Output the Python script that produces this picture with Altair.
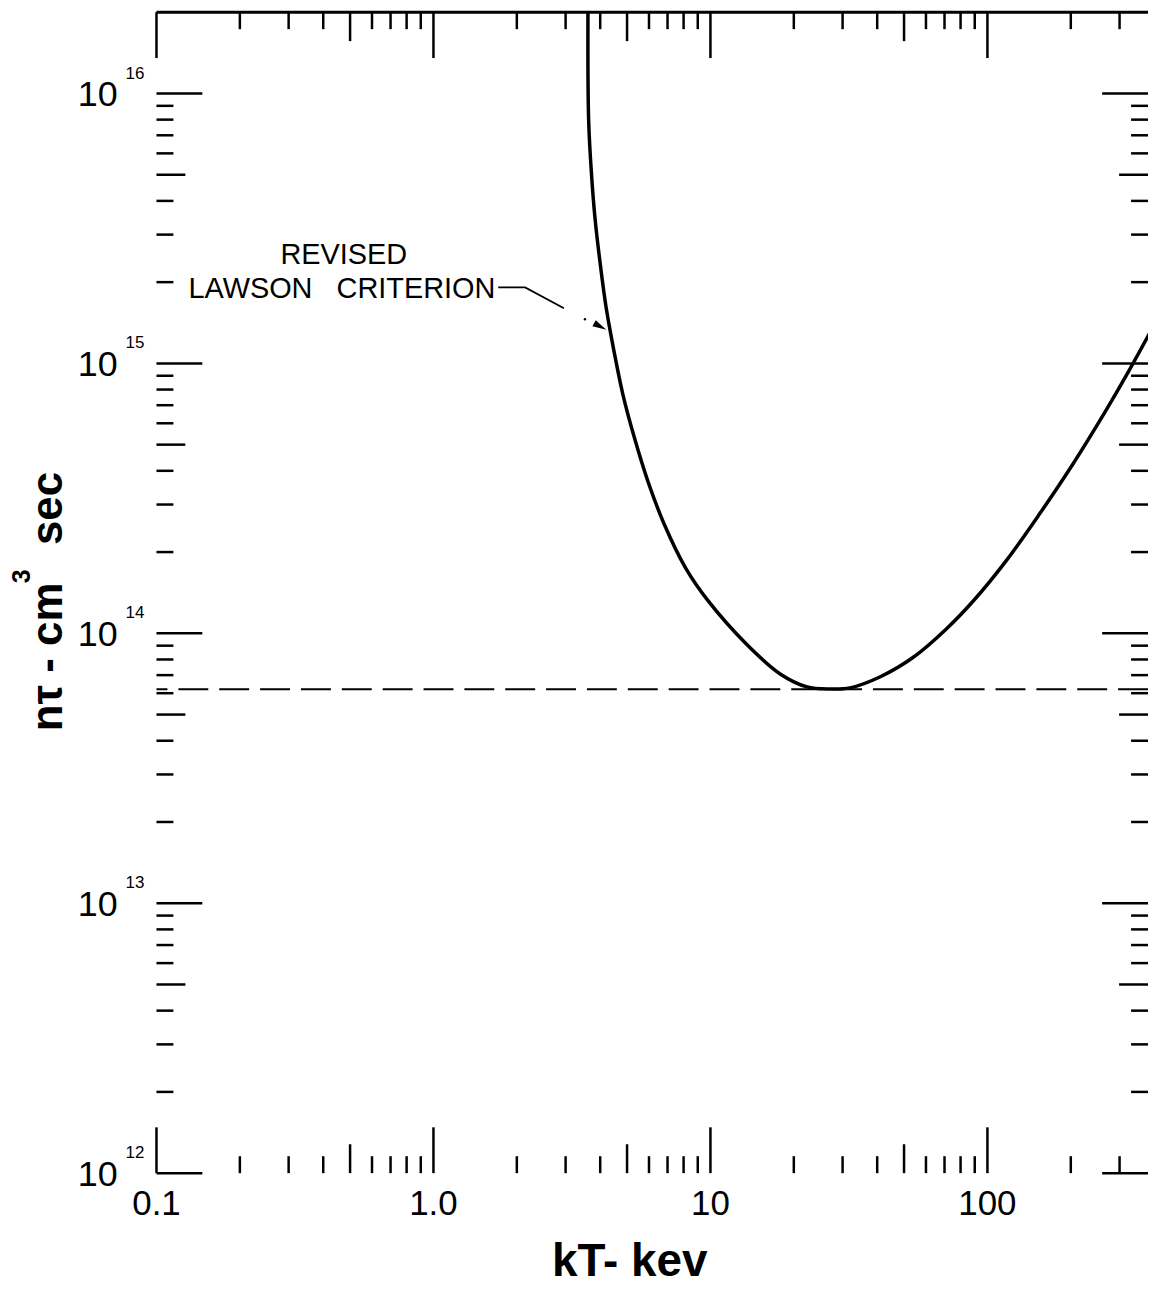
import altair as alt
import pandas as pd

# ---- data ----
KT = [3.612, 3.633, 3.726, 3.835, 3.998, 4.202, 4.478, 4.826, 5.316, 5.934, 6.817, 8.15,
      9.75, 13.59, 17.86, 22.33, 27.02, 31.89, 40.89, 54.17, 71.21, 89.04, 117.0, 153.9,
      203.9, 268.0, 324.2, 395.5]
NTAU = [2.0e16, 7.98e15, 4.91e15, 3.41e15, 2.35e15, 1.61e15, 1.12e15, 7.70e14, 5.30e14,
        3.68e14, 2.53e14, 1.74e14, 1.33e14, 9.05e13, 7.07e13, 6.33e13, 6.22e13, 6.28e13,
        6.89e13, 8.17e13, 1.04e14, 1.32e14, 1.86e14, 2.76e14, 4.25e14, 6.70e14, 9.38e14,
        1.36e15]
DASH_LEVEL = [6.2e13]

X_MAJOR = [0.1, 1, 10, 100]
X_MID = [0.5, 5, 50]
X_MINOR = [0.2, 0.3, 0.4, 0.6, 0.7, 0.8, 0.9, 2, 3, 4, 6, 7, 8, 9,
           20, 30, 40, 60, 70, 80, 90, 200, 300]
X_LABELS = ["0.1", "1.0", "10", "100"]

Y_MAJOR = [1e12, 1e13, 1e14, 1e15, 1e16]
Y_MID = [5e12, 5e13, 5e14, 5e15]
Y_MINOR = [m * 10.0 ** e for e in (12, 13, 14, 15) for m in (2, 3, 4, 6, 7, 8, 9)]
Y_EXP = ["12", "13", "14", "15", "16"]

NB = "\u00a0"
ANNOT_TEXT = ["REVISED", "LAWSON" + NB * 3 + "CRITERION"]
ANNOT_X = [0.4745, 0.467]
ANNOT_Y = [2.34e15, 1.74e15]
LEADER_X = [1.713, 2.143, 2.959]
LEADER_Y = [1.913e15, 1.913e15, 1.600e15]
DOT_X, DOT_Y = [3.523], [1.457e15]
ARROW_X, ARROW_Y = [4.00], [1.37e15]

W, H = 995, 1165
FONT = "Liberation Sans"
xs = alt.Scale(type="log", domain=[0.1, 380], nice=False)
ys = alt.Scale(type="log", domain=[1e12, 2e16], nice=False)

frame_axis = dict(domain=True, domainColor="black", domainWidth=3, ticks=False,
                  labels=False, grid=False, title=None)

curve_df = pd.DataFrame({"kT": KT, "ntau": NTAU})
curve = alt.Chart(curve_df).mark_line(
    color="black", strokeWidth=3.5, interpolate="catmull-rom", clip=True
).encode(
    x=alt.X("kT:Q", scale=xs, axis=alt.Axis(**frame_axis)),
    y=alt.Y("ntau:Q", scale=ys, axis=alt.Axis(**frame_axis)),
)

dash = alt.Chart(pd.DataFrame({"ntau": DASH_LEVEL})).mark_rule(
    color="black", strokeWidth=2, strokeDash=[30, 11]
).encode(y=alt.Y("ntau:Q", scale=ys, axis=None))

one = pd.DataFrame({"k": [0]})
top_frame = alt.Chart(one).mark_rule(color="black", strokeWidth=3).encode(
    x=alt.value(0), x2=alt.value(W), y=alt.value(0)
)

layers = [curve, dash, top_frame]

TICK_W = 2.5
for vals, L in ((X_MAJOR, 46), (X_MID, 29), (X_MINOR, 17)):
    df = pd.DataFrame({"kT": vals})
    layers.append(alt.Chart(df).mark_rule(color="black", strokeWidth=TICK_W).encode(
        x=alt.X("kT:Q", scale=xs, axis=None), y=alt.value(H), y2=alt.value(H - L)))
    layers.append(alt.Chart(df).mark_rule(color="black", strokeWidth=TICK_W).encode(
        x=alt.X("kT:Q", scale=xs, axis=None), y=alt.value(0), y2=alt.value(L)))
for vals, L in ((Y_MAJOR, 46), (Y_MID, 29), (Y_MINOR, 17)):
    df = pd.DataFrame({"ntau": vals})
    layers.append(alt.Chart(df).mark_rule(color="black", strokeWidth=TICK_W).encode(
        y=alt.Y("ntau:Q", scale=ys, axis=None), x=alt.value(0), x2=alt.value(L)))
    layers.append(alt.Chart(df).mark_rule(color="black", strokeWidth=TICK_W).encode(
        y=alt.Y("ntau:Q", scale=ys, axis=None), x=alt.value(W), x2=alt.value(W - L)))

# tick labels
xl = pd.DataFrame({"kT": X_MAJOR, "t": X_LABELS})
layers.append(alt.Chart(xl).mark_text(
    font=FONT, fontSize=35, align="center", baseline="alphabetic", color="black"
).encode(x=alt.X("kT:Q", scale=xs, axis=None), y=alt.value(H + 42), text="t:N"))

yl = pd.DataFrame({"ntau": Y_MAJOR, "base": ["10"] * len(Y_MAJOR), "exp": Y_EXP})
layers.append(alt.Chart(yl).mark_text(
    font=FONT, fontSize=36, align="right", baseline="alphabetic", dy=13, color="black"
).encode(y=alt.Y("ntau:Q", scale=ys, axis=None), x=alt.value(-39), text="base:N"))
layers.append(alt.Chart(yl).mark_text(
    font=FONT, fontSize=17, align="left", baseline="alphabetic", dy=-15, color="black"
).encode(y=alt.Y("ntau:Q", scale=ys, axis=None), x=alt.value(-31), text="exp:N"))

# annotation
ann = pd.DataFrame({"kT": ANNOT_X, "ntau": ANNOT_Y, "t": ANNOT_TEXT})
layers.append(alt.Chart(ann).mark_text(
    font=FONT, fontSize=29, align="center", baseline="alphabetic", color="black"
).encode(x=alt.X("kT:Q", scale=xs, axis=None), y=alt.Y("ntau:Q", scale=ys, axis=None),
         text="t:N"))
lead = pd.DataFrame({"kT": LEADER_X, "ntau": LEADER_Y, "i": list(range(len(LEADER_X)))})
layers.append(alt.Chart(lead).mark_line(color="black", strokeWidth=1.8).encode(
    x=alt.X("kT:Q", scale=xs, axis=None), y=alt.Y("ntau:Q", scale=ys, axis=None), order="i:Q"))
layers.append(alt.Chart(pd.DataFrame({"kT": DOT_X, "ntau": DOT_Y})).mark_point(
    filled=True, color="black", size=6, opacity=1).encode(
    x=alt.X("kT:Q", scale=xs, axis=None), y=alt.Y("ntau:Q", scale=ys, axis=None)))
layers.append(alt.Chart(pd.DataFrame({"kT": ARROW_X, "ntau": ARROW_Y})).mark_point(
    shape="M-1,-0.5L1,0L-1,0.5Z", filled=True, color="black", size=196, angle=28,
    opacity=1).encode(
    x=alt.X("kT:Q", scale=xs, axis=None), y=alt.Y("ntau:Q", scale=ys, axis=None)))

# axis titles
layers.append(alt.Chart(pd.DataFrame({"t": ["kT- kev"]})).mark_text(
    font=FONT, fontSize=46, fontWeight="bold", align="center", baseline="alphabetic",
    color="black").encode(x=alt.value(475), y=alt.value(1268), text="t:N"))

YT_TEXT = ["nτ - cm", "3", "sec"]
YT_SIZE = [44, 25, 44]
YT_X = [-95, -127, -95]
YT_Y = [647, 566, 498]
for t, s, px, py in zip(YT_TEXT, YT_SIZE, YT_X, YT_Y):
    layers.append(alt.Chart(pd.DataFrame({"t": [t]})).mark_text(
        font=FONT, fontSize=s, fontWeight="bold",
        align="center", baseline="alphabetic", angle=270, color="black"
    ).encode(x=alt.value(px), y=alt.value(py), text="t:N"))

chart = alt.layer(*layers).properties(
    width=W, height=H,
    padding={"left": 149, "top": 2, "right": 0, "bottom": 112},
    autosize=alt.AutoSizeParams(type="none"),
    background="white",
).configure_view(stroke=None)

chart.save("out.html", embed_options={"renderer": "svg", "actions": False})
